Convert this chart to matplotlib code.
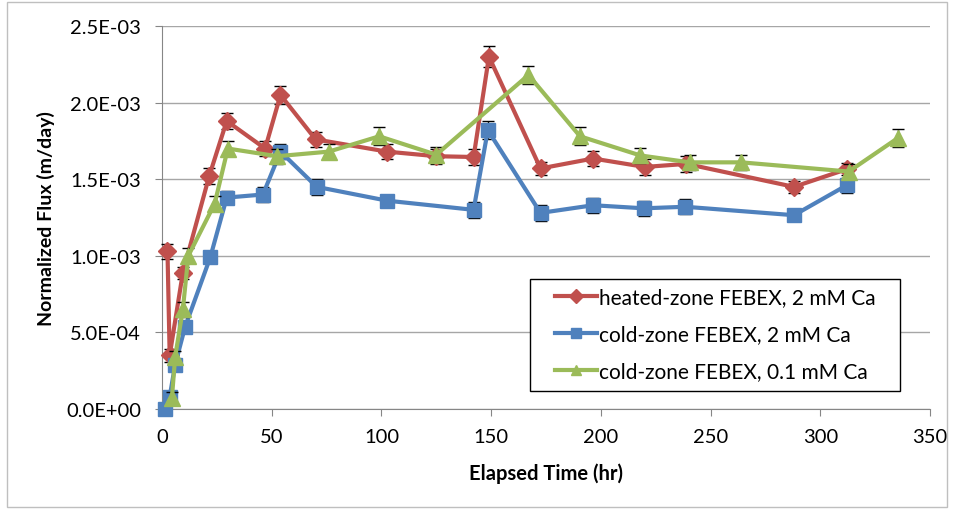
import matplotlib.pyplot as plt
from matplotlib.lines import Line2D
from matplotlib.ticker import FuncFormatter

plt.rcParams['font.family'] = ['Lato', 'DejaVu Sans']

# heated-zone FEBEX, 2 mM Ca
t_heat = [2.5, 3.5, 9.5, 21.5, 29.5, 47, 54, 70, 102.5, 125, 142, 149, 172.5, 196.5, 220, 239, 288, 312]
f_heat = [1.03e-3, 0.35e-3, 0.89e-3, 1.52e-3, 1.88e-3, 1.70e-3, 2.05e-3, 1.76e-3, 1.68e-3, 1.65e-3,
          1.645e-3, 2.30e-3, 1.57e-3, 1.635e-3, 1.58e-3, 1.60e-3, 1.45e-3, 1.565e-3]
e_heat = [0.05e-3, 0.04e-3, 0.04e-3, 0.05e-3, 0.05e-3, 0.05e-3, 0.06e-3, 0.05e-3, 0.05e-3, 0.05e-3,
          0.05e-3, 0.07e-3, 0.04e-3, 0.05e-3, 0.05e-3, 0.05e-3, 0.04e-3, 0.04e-3]

# cold-zone FEBEX, 2 mM Ca
t_cold = [1.5, 3.5, 6, 10.5, 22, 29.5, 46, 54, 70.5, 102.5, 142, 148.5, 172.5, 196.5, 219.5, 238.5, 288, 312]
f_cold = [0.0, 0.08e-3, 0.29e-3, 0.535e-3, 0.99e-3, 1.38e-3, 1.40e-3, 1.68e-3, 1.45e-3, 1.36e-3,
          1.30e-3, 1.82e-3, 1.28e-3, 1.33e-3, 1.31e-3, 1.32e-3, 1.265e-3, 1.46e-3]
e_cold = [0.02e-3, 0.04e-3, 0.03e-3, 0.04e-3, 0.03e-3, 0.04e-3, 0.05e-3, 0.05e-3, 0.05e-3, 0.04e-3,
          0.05e-3, 0.06e-3, 0.05e-3, 0.05e-3, 0.05e-3, 0.05e-3, 0.04e-3, 0.05e-3]

# cold-zone FEBEX, 0.1 mM Ca
t_low = [4.5, 6, 9.5, 12, 24, 30, 52.5, 76, 99, 125, 167, 190.5, 218, 240.5, 264, 313, 335.5]
f_low = [0.07e-3, 0.34e-3, 0.65e-3, 1.00e-3, 1.34e-3, 1.70e-3, 1.65e-3, 1.68e-3, 1.78e-3, 1.66e-3,
         2.18e-3, 1.78e-3, 1.655e-3, 1.61e-3, 1.61e-3, 1.55e-3, 1.77e-3]
e_low = [0.04e-3, 0.04e-3, 0.05e-3, 0.05e-3, 0.05e-3, 0.05e-3, 0.05e-3, 0.05e-3, 0.06e-3, 0.05e-3,
         0.06e-3, 0.06e-3, 0.05e-3, 0.05e-3, 0.05e-3, 0.05e-3, 0.06e-3]

labels = ['heated-zone FEBEX, 2 mM Ca', 'cold-zone FEBEX, 2 mM Ca', 'cold-zone FEBEX, 0.1 mM Ca']

fig = plt.figure(figsize=(9.56, 5.10), dpi=100)
ax = fig.add_axes([162 / 956, 1 - 410 / 510, 768 / 956, 383 / 510])

# outer chart border
fig.patches.append(plt.Rectangle((7 / 956, 2 / 510), 940 / 956, 505 / 510, transform=fig.transFigure,
                                 fill=False, edgecolor='#bfbfbf', linewidth=1))

red, blue, green = '#C0504D', '#4F81BD', '#9BBB59'
series = [(t_heat, f_heat, e_heat, red, 'D', 9),
          (t_cold, f_cold, e_cold, blue, 's', 10),
          (t_low, f_low, e_low, green, '^', 11)]

for i, (t, f, e, c, m, ms) in enumerate(series):
    ax.errorbar(t, f, yerr=e, color=c, lw=3, marker=m, ms=ms, ecolor='black',
                elinewidth=1, capsize=4, zorder=3 + i, clip_on=False)

ax.set_xlim(0, 350)
ax.set_ylim(0, 2.5e-3)
ax.set_xticks(range(0, 351, 50))
ax.set_yticks([i * 0.5e-3 for i in range(6)])
ax.yaxis.set_major_formatter(FuncFormatter(lambda v, p: f'{v:.1E}'))
ax.grid(axis='y', color='#a6a6a6', lw=1)
ax.set_axisbelow(True)
for s in ['top', 'right']:
    ax.spines[s].set_visible(False)
ax.spines['left'].set_color('#868686')
ax.spines['bottom'].set_color('#868686')
ax.tick_params(axis='y', length=5, color='#868686', labelsize=14.5, pad=10)
ax.tick_params(axis='x', length=5, color='#868686', labelsize=14.5, pad=9)

ax.set_xlabel('Elapsed Time (hr)', fontsize=14.5, fontweight='bold', labelpad=12)
ax.set_ylabel('Normalized Flux (m/day)', fontsize=14, fontweight='bold', labelpad=8)

# legend frame drawn separately so its size matches the reference box
box = plt.Rectangle((530 / 956, 1 - 392 / 510), 370 / 956, 112 / 510, transform=fig.transFigure,
                    facecolor='white', edgecolor='black', linewidth=1, zorder=10, clip_on=False)
ax.add_patch(box)
handles = [Line2D([], [], color=c, lw=3, marker=m, ms=7) for (_, _, _, c, m, _) in series]
leg = ax.legend(handles, labels, loc='upper left', bbox_to_anchor=(555 / 956, 1 - 288 / 510),
                bbox_transform=fig.transFigure, fontsize=15, frameon=False,
                handlelength=2.0, handletextpad=0.1, borderpad=0, labelspacing=0.82, borderaxespad=0)
leg.set_zorder(11)

fig.savefig('out.png', dpi=100)
